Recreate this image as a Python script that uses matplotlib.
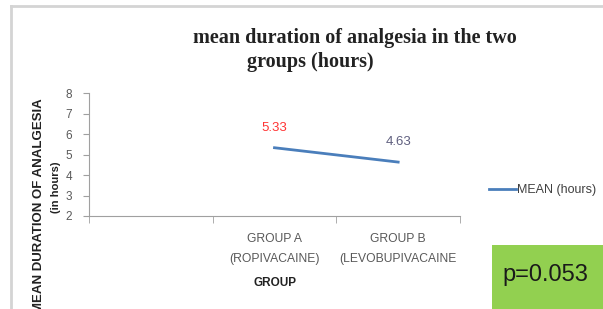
import matplotlib
matplotlib.use("Agg")
import matplotlib.pyplot as plt
import numpy as np
from matplotlib.patches import Rectangle
from matplotlib.lines import Line2D

# data
categories = ["", "GROUP A\n(ROPIVACAINE)", "GROUP B\n(LEVOBUPIVACAINE"]
mean_hours = [np.nan, 5.33, 4.63]
label_colors = [None, "#ff3333", "#5f5f7f"]
y_ticks = [2, 3, 4, 5, 6, 7, 8]
p_text = "p=0.053"

W, H = 603, 309
fig = plt.figure(figsize=(W / 100, H / 100), dpi=100)
plt.rcParams["font.family"] = ["Liberation Sans", "DejaVu Sans"]

# chart frame (left and top edges visible)
fig.add_artist(Line2D([11 / W, 11 / W], [0, 1 - 6 / H], transform=fig.transFigure,
                      color="#d4d4d4", lw=2))
fig.add_artist(Line2D([11 / W, 1], [1 - 6 / H, 1 - 6 / H], transform=fig.transFigure,
                      color="#d4d4d4", lw=2))

ax = fig.add_axes([89 / W, 1 - 216 / H, (460 - 89) / W, (216 - 93) / H])
x = np.arange(len(categories))
ax.plot(x, mean_hours, color="#4a7ebb", lw=2, label="MEAN (hours)")
for xi, v, c in zip(x, mean_hours, label_colors):
    if not np.isnan(v):
        ax.annotate(f"{v:.2f}", (xi, v), xytext=(0, 10), textcoords="offset points",
                    ha="center", va="bottom", color=c, fontsize=9.5)

ax.set_xlim(-0.5, len(categories) - 0.5)
ax.set_ylim(min(y_ticks), max(y_ticks))
ax.set_yticks(y_ticks)
ax.set_xticks(x)
ax.set_xticklabels(categories, color="#595959", fontsize=8.7, linespacing=1.9)
ax.set_xticks(np.arange(len(categories) + 1) - 0.5, minor=True)
ax.tick_params(axis="x", which="major", length=0, pad=12)
ax.tick_params(axis="x", which="minor", length=5, color="#a0a0a0")
ax.tick_params(axis="y", length=4, color="#a0a0a0", labelcolor="#595959",
               labelsize=8.5, pad=8)
for s in ["top", "right"]:
    ax.spines[s].set_visible(False)
for s in ["left", "bottom"]:
    ax.spines[s].set_color("#a0a0a0")

ax.set_xlabel("GROUP", fontsize=8.5, fontweight="bold", color="#222222", labelpad=9)

# y-axis title, cut at the figure edge like the source
fig.text(39 / W, 1 - 206 / H, "MEAN DURATION OF ANALGESIA", rotation=90,
         ha="center", va="center", fontsize=9.5, fontweight="bold", color="#222222")
fig.text(56 / W, 1 - 187 / H, "(in hours)", rotation=90,
         ha="center", va="center", fontsize=8, fontweight="bold", color="#222222")

# title
fig.text(355 / W, 1 - 38 / H, "mean duration of analgesia in the two",
         ha="center", va="center", fontsize=14.5, fontweight="bold",
         family="Liberation Serif", color="#222222")
fig.text(310 / W, 1 - 62 / H, "groups (hours)",
         ha="center", va="center", fontsize=14.5, fontweight="bold",
         family="Liberation Serif", color="#222222")

# legend
ax.legend(loc="center left", bbox_to_anchor=(478 / W, 1 - 190 / H),
          bbox_transform=fig.transFigure, frameon=False, fontsize=9,
          handlelength=2.1, handletextpad=0.15, labelcolor="#404040")

# p-value box
fig.add_artist(Rectangle((492 / W, 0), (W - 492) / W, (309 - 245) / H,
                         transform=fig.transFigure, facecolor="#92d050",
                         edgecolor="none"))
fig.text(545 / W, 1 - 275 / H, p_text, ha="center", va="center",
         fontsize=17, color="#1a1a1a")

fig.savefig("out.png", dpi=100)
